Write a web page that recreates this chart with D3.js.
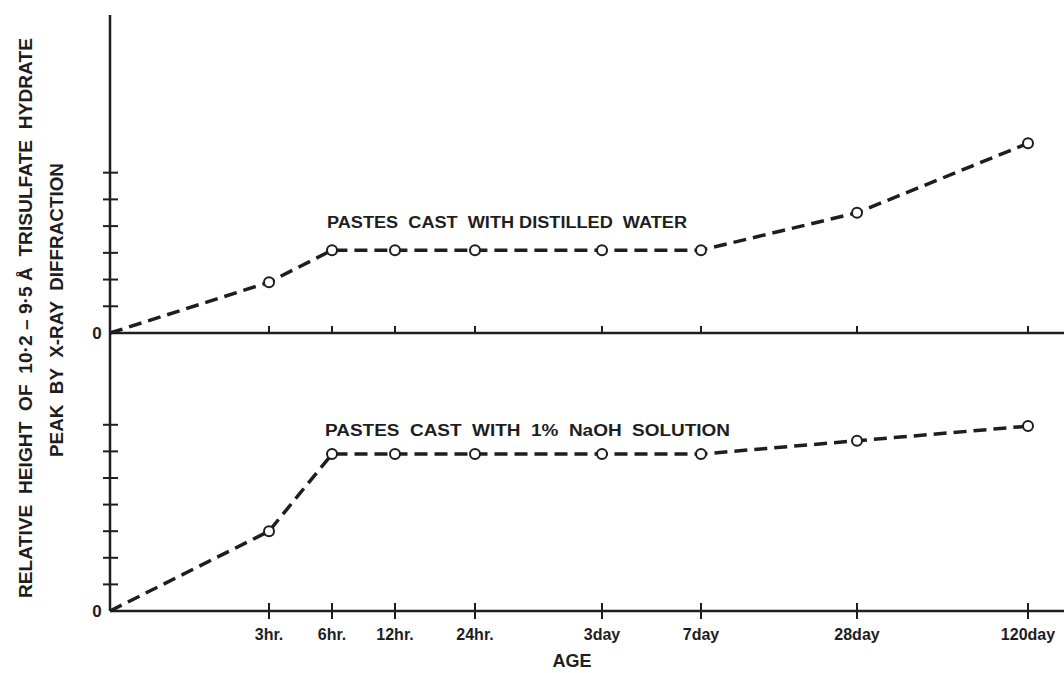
<!DOCTYPE html>
<html>
<head>
<meta charset="utf-8">
<script src="https://cdn.jsdelivr.net/npm/d3@7"></script>
<style>
  body { margin: 0; background: #fff; }
  text { font-family: "Liberation Sans", Arial, sans-serif; font-weight: bold; fill: #1e1e1e; }
</style>
</head>
<body>
<svg id="canvas" width="1064" height="673"></svg>
<script>
// ages in hours (0 = origin), and the labels under the x axis
const ageHours = [0, 3, 6, 12, 24, 72, 168, 672, 2880];
const ageLabels = ['3hr.', '6hr.', '12hr.', '24hr.', '3day', '7day', '28day', '120day'];

// relative peak heights (tick units)
const waterValues = [0, 1.9, 3.1, 3.1, 3.1, 3.1, 3.1, 4.5, 7.1];
const naohValues = [0, 3.0, 5.9, 5.9, 5.9, 5.9, 5.9, 6.4, 6.95];

const upperTicks = [1, 2, 3, 4, 5, 6];
const lowerTicks = [1, 2, 3, 4, 5, 6, 7];

const ink = '#1e1e1e';
const svg = d3.select('#canvas');

// x axis is hand spaced in the original, so a piecewise scale on the hours
const x = d3.scaleLinear()
  .domain(ageHours)
  .range([110, 269, 332, 395, 475, 602, 701, 857, 1028]);

const yUp = d3.scaleLinear().domain([0, 11.9]).range([333, 15]);
const yLow = d3.scaleLinear().domain([0, 10.45]).range([611, 333]);

// vertical axis
svg.append('line')
  .attr('x1', 110).attr('x2', 110)
  .attr('y1', yUp(11.9)).attr('y2', yLow(0))
  .attr('stroke', ink).attr('stroke-width', 2.5);

// baselines
[yUp, yLow].forEach(y => {
  svg.append('line')
    .attr('x1', 110).attr('x2', 1064)
    .attr('y1', y(0)).attr('y2', y(0))
    .attr('stroke', ink).attr('stroke-width', 2.5);
  svg.append('text')
    .attr('x', 97).attr('y', y(0) + 6)
    .attr('text-anchor', 'middle')
    .style('font-size', '17px')
    .text('0');
});

// y ticks crossing the axis
svg.selectAll('.tickUp')
  .data(upperTicks).enter().append('line')
  .attr('x1', 103).attr('x2', 118)
  .attr('y1', d => yUp(d)).attr('y2', d => yUp(d))
  .attr('stroke', ink).attr('stroke-width', 2);
svg.selectAll('.tickLow')
  .data(lowerTicks).enter().append('line')
  .attr('x1', 103).attr('x2', 118)
  .attr('y1', d => yLow(d)).attr('y2', d => yLow(d))
  .attr('stroke', ink).attr('stroke-width', 2);

// x ticks
const ageTicks = ageHours.slice(1);
svg.selectAll('.xtUp')
  .data(ageTicks).enter().append('line')
  .attr('x1', d => x(d)).attr('x2', d => x(d))
  .attr('y1', yUp(0) - 7).attr('y2', yUp(0))
  .attr('stroke', ink).attr('stroke-width', 2);
svg.selectAll('.xtLow')
  .data(ageTicks).enter().append('line')
  .attr('x1', d => x(d)).attr('x2', d => x(d))
  .attr('y1', yLow(0) - 8).attr('y2', yLow(0) + 8)
  .attr('stroke', ink).attr('stroke-width', 2);

svg.selectAll('.xlab')
  .data(ageTicks).enter().append('text')
  .attr('x', d => x(d)).attr('y', 640)
  .attr('text-anchor', 'middle')
  .style('font-size', '16px')
  .text((d, i) => ageLabels[i]);

svg.append('text')
  .attr('x', 572).attr('y', 667)
  .attr('text-anchor', 'middle')
  .style('font-size', '18px')
  .text('AGE');

// y axis title, two lines
svg.append('text')
  .attr('transform', 'translate(32,318) rotate(-90)')
  .attr('text-anchor', 'middle')
  .attr('textLength', 560).attr('lengthAdjust', 'spacingAndGlyphs')
  .style('font-size', '19px')
  .style('white-space', 'pre')
  .text('RELATIVE  HEIGHT  OF  10·2 – 9·5 Å  TRISULFATE  HYDRATE');
svg.append('text')
  .attr('transform', 'translate(63,310) rotate(-90)')
  .attr('text-anchor', 'middle')
  .attr('textLength', 294).attr('lengthAdjust', 'spacingAndGlyphs')
  .style('font-size', '19px')
  .style('white-space', 'pre')
  .text('PEAK  BY  X-RAY  DIFFRACTION');

// series
function drawSeries(values, y, label, lx, ly, lw) {
  const pts = ageHours.map((h, i) => [x(h), y(values[i])]);
  svg.append('path')
    .attr('d', d3.line()(pts))
    .attr('fill', 'none')
    .attr('stroke', ink)
    .attr('stroke-width', 3.5)
    .attr('stroke-dasharray', '13,7');
  svg.selectAll(null)
    .data(pts.slice(1)).enter().append('circle')
    .attr('cx', d => d[0]).attr('cy', d => d[1])
    .attr('r', 5)
    .attr('fill', '#fff')
    .attr('stroke', ink).attr('stroke-width', 2);
  svg.append('text')
    .attr('x', lx).attr('y', ly)
    .attr('textLength', lw).attr('lengthAdjust', 'spacingAndGlyphs')
    .style('font-size', '16px')
    .style('white-space', 'pre')
    .text(label);
}

drawSeries(waterValues, yUp, 'PASTES  CAST  WITH DISTILLED  WATER', 327, 228, 360);
drawSeries(naohValues, yLow, 'PASTES  CAST  WITH  1%  NaOH  SOLUTION', 325, 436, 405);
</script>
</body>
</html>
